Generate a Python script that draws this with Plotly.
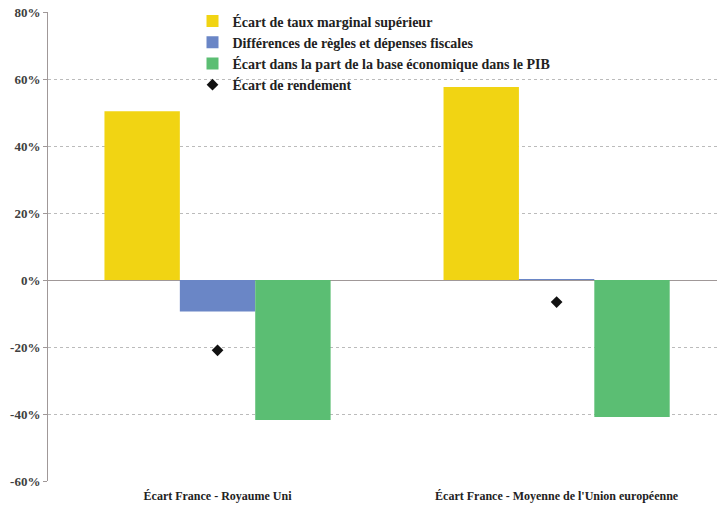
import plotly.graph_objects as go

categories = ["Écart France - Royaume Uni", "Écart France - Moyenne de l'Union européenne"]
taux_marginal = [50.4, 57.6]
regles_depenses = [-9.4, 0.2]
base_economique = [-41.8, -40.9]
rendement = [-21.0, -6.6]
tick_vals = [-60, -40, -20, 0, 20, 40, 60, 80]
tick_text = ["-60%", "-40%", "-20%", "0%", "20%", "40%", "60%", "80%"]

font_serif = "Liberation Serif, DejaVu Serif, serif"

fig = go.Figure()
fig.add_trace(go.Bar(name="Écart de taux marginal supérieur", x=categories, y=taux_marginal,
                     marker=dict(color="#F1D413", line=dict(width=0))))
fig.add_trace(go.Bar(name="Différences de règles et dépenses fiscales", x=categories, y=regles_depenses,
                     marker=dict(color="#6A86C6", line=dict(width=0))))
fig.add_trace(go.Bar(name="Écart dans la part de la base économique dans le PIB", x=categories, y=base_economique,
                     marker=dict(color="#5BBE73", line=dict(width=0))))
fig.add_trace(go.Scatter(name="Écart de rendement", x=categories, y=rendement, mode="markers",
                         marker=dict(symbol="diamond", size=9, color="#111111")))

fig.update_layout(
    width=717, height=507,
    margin=dict(l=48, r=0, t=12, b=26),
    paper_bgcolor="white", plot_bgcolor="white",
    barmode="group", bargap=0.333, bargroupgap=0,
    font=dict(family=font_serif, color="#404040"),
    legend=dict(x=0.216, y=1.014, xanchor="left", yanchor="top",
                bgcolor="rgba(0,0,0,0)", itemwidth=30, tracegroupgap=0,
                font=dict(family=font_serif, size=14, color="#222222", weight="bold")),
    showlegend=True,
)
fig.update_yaxes(range=[-60, 80], tickvals=tick_vals, ticktext=tick_text,
                 showgrid=True, gridcolor="#BBBBBB", griddash="dot", gridwidth=1,
                 showline=True, linecolor="#A09898", linewidth=1,
                 ticks="outside", ticklen=4, tickcolor="#A09898",
                 zeroline=True, zerolinecolor="#A09898", zerolinewidth=1,
                 tickfont=dict(family=font_serif, size=13, color="#404040", weight="bold"))
fig.update_xaxes(range=[-0.5, 1.473], showgrid=False, showline=False, ticks="",
                 ticklabelstandoff=6,
                 tickfont=dict(family=font_serif, size=12, color="#222222", weight="bold"))

fig.write_html("out.html")
